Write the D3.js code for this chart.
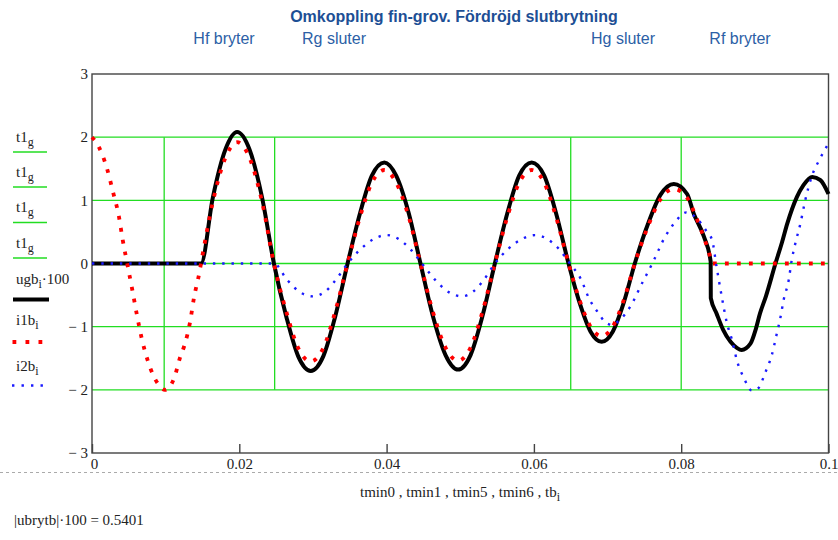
<!DOCTYPE html>
<html>
<head>
<meta charset="utf-8">
<script src="https://cdn.jsdelivr.net/npm/d3@7"></script>
<style>
  body { margin: 0; background: #fff; }
  svg { display: block; }
</style>
</head>
<body>
<div id="chart"></div>
<script>
// values (t in s)
const xTicks = [0, 0.02, 0.04, 0.06, 0.08, 0.1];
const xTickLabels = ["0", "0.02", "0.04", "0.06", "0.08", "0.1"];
const yTicks = [3, 2, 1, 0, -1, -2, -3];
const yTickLabels = ["3", "2", "1", "0", "\u2212 1", "\u2212 2", "\u2212 3"];
const yGrid = [2, 1, 0, -1, -2];

// t1_g markers: tmin0, tmin1, tmin5, tmin6 drawn from g = -2 .. 2
const tmin = [0.0098, 0.0248, 0.065, 0.08];
const gRange = [-2, 2];

const eventLabels = ["Hf bryter", "Rg sluter", "Hg sluter", "Rf bryter"];

// ugb_i*100
const ugbT = [0, 0.0148, 0.0164, 0.0181, 0.0197, 0.0214, 0.0231, 0.0247, 0.0264, 0.028, 0.0297,
  0.0314, 0.033, 0.0347, 0.0364, 0.038, 0.0397, 0.0413, 0.043, 0.0446, 0.0463, 0.048, 0.0497,
  0.0514, 0.053, 0.0547, 0.0564, 0.058, 0.0597, 0.0614, 0.063, 0.0647, 0.0662, 0.0677, 0.0692,
  0.0707, 0.0722, 0.0737, 0.0755, 0.0772, 0.079, 0.0808, 0.0817, 0.0831, 0.084, 0.08402, 0.0848,
  0.0857, 0.0867, 0.0876, 0.0882, 0.0894, 0.0901, 0.0907, 0.0915, 0.0928, 0.0937, 0.0944,
  0.0957, 0.0966, 0.0978, 0.0989, 0.1];
const ugbV = [0, 0, 1.04, 1.8, 2.08, 1.8, 1.04, 0, -0.85, -1.47, -1.7,
  -1.47, -0.85, 0, 0.8, 1.39, 1.6, 1.39, 0.8, 0, -0.84, -1.45, -1.68,
  -1.45, -0.84, 0, 0.8, 1.39, 1.6, 1.39, 0.8, 0, -0.62, -1.08, -1.24,
  -1.08, -0.62, 0, 0.63, 1.09, 1.26, 1.1, 0.79, 0.42, 0.03, -0.55, -0.79,
  -1.05, -1.24, -1.34, -1.37, -1.27, -1.05, -0.79, -0.52, 0, 0.34, 0.63,
  1.05, 1.24, 1.37, 1.32, 1.1];

// i1b_i
const i1bT = [0, 0.00086, 0.00199, 0.00288, 0.00366, 0.00416, 0.00478, 0.00546, 0.00606, 0.00674,
  0.00763, 0.00894, 0.0099, 0.01114, 0.01195, 0.01254, 0.01331, 0.01385, 0.01457, 0.0148,
  0.0164, 0.0181, 0.0197, 0.0214, 0.0231, 0.0247, 0.0264, 0.028, 0.0297, 0.0314, 0.033, 0.0347,
  0.0364, 0.038, 0.0397, 0.0413, 0.043, 0.0446, 0.0463, 0.048, 0.0497, 0.0514, 0.053, 0.0547,
  0.0564, 0.058, 0.0597, 0.0614, 0.063, 0.0647, 0.0662, 0.0677, 0.0692, 0.0707, 0.0722, 0.0737,
  0.0755, 0.0772, 0.079, 0.0808, 0.0818, 0.0826, 0.0833, 0.0838, 0.0842, 0.1];
const i1bV = [2, 1.86, 1.52, 1.12, 0.74, 0.38, 0, -0.41, -0.79, -1.18,
  -1.56, -1.9, -2, -1.82, -1.49, -1.3, -0.93, -0.54, -0.15, 0,
  0.97, 1.67, 1.92, 1.67, 0.97, 0, -0.77, -1.34, -1.55, -1.34, -0.77, 0,
  0.74, 1.28, 1.48, 1.28, 0.74, 0, -0.77, -1.33, -1.54, -1.33, -0.77, 0,
  0.74, 1.28, 1.48, 1.28, 0.74, 0, -0.58, -1.0, -1.15, -1.0, -0.58, 0,
  0.59, 1.02, 1.18, 1.04, 0.8, 0.56, 0.34, 0.16, 0, 0];

// i2b_i
const i2bT = [0, 0.0247, 0.0265, 0.0282, 0.03, 0.0316, 0.0331, 0.0347, 0.0365, 0.0383, 0.04,
  0.0416, 0.0432, 0.0448, 0.0466, 0.0484, 0.0502, 0.0517, 0.0532, 0.0547, 0.0565, 0.0584, 0.0602,
  0.0618, 0.0634, 0.0649, 0.0663, 0.0676, 0.0688, 0.0697, 0.0706, 0.0717, 0.0731, 0.0747, 0.0762,
  0.0778, 0.0792, 0.0807, 0.0823, 0.0835, 0.0842, 0.0848, 0.0855, 0.0862, 0.0869, 0.0876, 0.0885,
  0.0896, 0.0905, 0.0914, 0.0923, 0.093, 0.0935, 0.0939, 0.0946, 0.095, 0.0955, 0.0962, 0.0968,
  0.0977, 0.0988, 0.1];
const i2bV = [0, 0, -0.26, -0.45, -0.52, -0.45, -0.26, 0, 0.23, 0.39, 0.45,
  0.39, 0.23, 0, -0.26, -0.45, -0.52, -0.45, -0.26, 0, 0.23, 0.39, 0.45,
  0.39, 0.23, 0, -0.23, -0.58, -0.79, -0.93, -0.97, -0.89, -0.68, -0.31, 0.03,
  0.42, 0.66, 0.81, 0.69, 0.5, 0.37, -0.05, -0.52, -0.94, -1.21, -1.55, -1.81,
  -2.01, -1.97, -1.73, -1.45, -1.1, -0.84, -0.58, -0.26, 0.05, 0.32, 0.64, 0.98,
  1.37, 1.65, 1.9];

const width = 838, height = 540;
const margin = { top: 74, right: 10, bottom: 87, left: 92 };
const plotRight = 828.5;

const green = "#22dd22";
const serif = "'Liberation Serif', 'Times New Roman', serif";
const sans = "'Liberation Sans', Arial, sans-serif";

const x = d3.scaleLinear([0, 0.1], [margin.left, plotRight]);
const y = d3.scaleLinear([-3, 3], [height - margin.bottom, margin.top]);

const svg = d3.select("#chart").append("svg")
  .attr("width", width)
  .attr("height", height);

// title + event labels
svg.append("text")
  .attr("x", 454).attr("y", 22)
  .attr("text-anchor", "middle")
  .attr("font-family", sans).attr("font-weight", "bold").attr("font-size", "16px")
  .attr("fill", "#1d4f95")
  .text("Omkoppling fin-grov. Fördröjd slutbrytning");

const labelX = [224, 334, 623, 740];
eventLabels.forEach((t, i) => {
  svg.append("text")
    .attr("x", labelX[i]).attr("y", 44)
    .attr("text-anchor", "middle")
    .attr("font-family", sans).attr("font-size", "16px")
    .attr("fill", "#2c5fa6")
    .text(t);
});

// horizontal grid
svg.append("g").selectAll("line").data(yGrid).join("line")
  .attr("x1", margin.left).attr("x2", plotRight)
  .attr("y1", d => y(d)).attr("y2", d => y(d))
  .attr("stroke", green).attr("stroke-width", 1.3);

// t1_g vertical markers
svg.append("g").selectAll("line").data(tmin).join("line")
  .attr("x1", d => x(d)).attr("x2", d => x(d))
  .attr("y1", y(gRange[1])).attr("y2", y(gRange[0]))
  .attr("stroke", green).attr("stroke-width", 1.3);

// frame
svg.append("rect")
  .attr("x", margin.left).attr("y", y(3))
  .attr("width", plotRight - margin.left).attr("height", y(-3) - y(3))
  .attr("fill", "none").attr("stroke", "#444").attr("stroke-width", 1.4);

// x axis
const xAxis = svg.append("g")
  .attr("transform", `translate(0,${y(-3)})`)
  .call(d3.axisBottom(x).tickValues(xTicks).tickSize(-9).tickPadding(5)
    .tickFormat((d, i) => xTickLabels[i]));
xAxis.select(".domain").remove();
xAxis.selectAll(".tick line").attr("stroke", "#444").attr("stroke-width", 1.4);
xAxis.selectAll(".tick text")
  .attr("font-family", serif).attr("font-size", "15px").attr("fill", "#222");
xAxis.selectAll(".tick").filter(d => d === 0).select("text").attr("dx", 2);

// y axis labels
const yAxis = svg.append("g")
  .attr("transform", `translate(${margin.left},0)`)
  .call(d3.axisLeft(y).tickValues(yTicks).tickSize(0).tickPadding(4)
    .tickFormat((d, i) => yTickLabels[i]));
yAxis.select(".domain").remove();
yAxis.selectAll(".tick text")
  .attr("font-family", serif).attr("font-size", "15px").attr("fill", "#222");

// traces
const line = d3.line()
  .x(d => x(d[0]))
  .y(d => y(d[1]))
  .curve(d3.curveMonotoneX);

svg.append("path")
  .attr("d", line(d3.zip(ugbT, ugbV)))
  .attr("fill", "none").attr("stroke", "#000").attr("stroke-width", 4)
  .attr("stroke-linejoin", "round");

svg.append("path")
  .attr("d", line(d3.zip(i1bT, i1bV)))
  .attr("fill", "none").attr("stroke", "#ff0000").attr("stroke-width", 3.8)
  .attr("stroke-dasharray", "3.8,8.2");

svg.append("path")
  .attr("d", line(d3.zip(i2bT, i2bV)))
  .attr("fill", "none").attr("stroke", "#1a1aff").attr("stroke-width", 2.4)
  .attr("stroke-dasharray", "2.4,6.9");

// legend
const legend = svg.append("g")
  .attr("font-family", serif).attr("font-size", "15px").attr("fill", "#222");

function legendLabel(yb, main, sub, tail) {
  const t = legend.append("text").attr("x", 16).attr("y", yb);
  t.append("tspan").text(main);
  t.append("tspan").attr("dy", 4).attr("font-size", "12px").text(sub);
  if (tail) t.append("tspan").attr("dy", -4).text(tail);
}

[141.5, 176.5, 212, 247.5].forEach((yb, i) => {
  legendLabel(yb, "t1", "g");
  legend.append("line")
    .attr("x1", 13).attr("x2", 47)
    .attr("y1", yb + 10.5).attr("y2", yb + 10.5)
    .attr("stroke", green).attr("stroke-width", 1.3);
});

legendLabel(283.5, "ugb", "i", "\u00b7100");
legend.append("line")
  .attr("x1", 13).attr("x2", 49).attr("y1", 299.5).attr("y2", 299.5)
  .attr("stroke", "#000").attr("stroke-width", 4);

legendLabel(325, "i1b", "i");
legend.append("line")
  .attr("x1", 12.5).attr("x2", 44).attr("y1", 342).attr("y2", 342)
  .attr("stroke", "#ff0000").attr("stroke-width", 3.8)
  .attr("stroke-dasharray", "3.8,9.2");

legendLabel(370.5, "i2b", "i");
legend.append("line")
  .attr("x1", 12).attr("x2", 45).attr("y1", 385.5).attr("y2", 385.5)
  .attr("stroke", "#1a1aff").attr("stroke-width", 2.4)
  .attr("stroke-dasharray", "2.4,7.1");

// region separator
svg.append("line")
  .attr("x1", 0).attr("x2", width).attr("y1", 472.5).attr("y2", 472.5)
  .attr("stroke", "#aaa").attr("stroke-width", 1)
  .attr("stroke-dasharray", "3,3");

// x axis title
const xt = svg.append("text")
  .attr("x", 460).attr("y", 497)
  .attr("text-anchor", "middle")
  .attr("font-family", serif).attr("font-size", "15px").attr("fill", "#222");
xt.append("tspan").text("tmin0 , tmin1 , tmin5 , tmin6 , tb");
xt.append("tspan").attr("dy", 4).attr("font-size", "12px").text("i");

// result line
svg.append("text")
  .attr("x", 14).attr("y", 525)
  .attr("font-family", serif).attr("font-size", "15px").attr("fill", "#222")
  .text("|ubrytb|\u00b7100 = 0.5401");
</script>
</body>
</html>
